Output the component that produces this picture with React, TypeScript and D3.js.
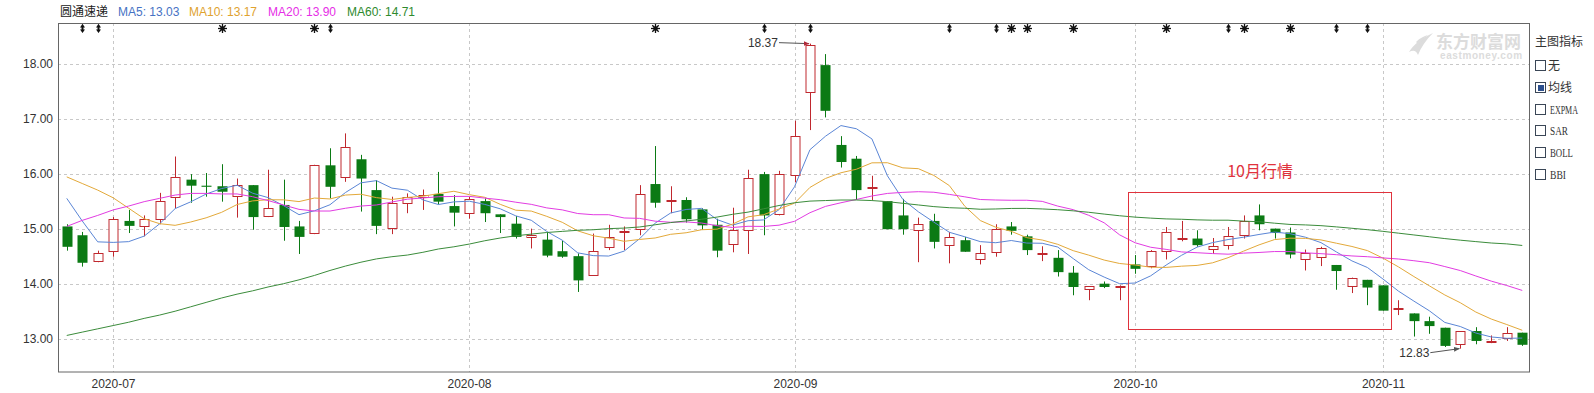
import React from 'react';
import * as d3 from 'd3';

// trading days shown (2020-06-24 .. 2020-11-13)
const monthDays: [string, number[]][] = [
  ['2020-06', [24, 29, 30]],
  ['2020-07', [1, 2, 3, 6, 7, 8, 9, 10, 13, 14, 15, 16, 17, 20, 21, 22, 23, 24, 27, 28, 29, 30, 31]],
  ['2020-08', [3, 4, 5, 6, 7, 10, 11, 12, 13, 14, 17, 18, 19, 20, 21, 24, 25, 26, 27, 28, 31]],
  ['2020-09', [1, 2, 3, 4, 7, 8, 9, 10, 11, 14, 15, 16, 17, 18, 21, 22, 23, 24, 25, 28, 29, 30]],
  ['2020-10', [9, 12, 13, 14, 15, 16, 19, 20, 21, 22, 23, 26, 27, 28, 29, 30]],
  ['2020-11', [2, 3, 4, 5, 6, 9, 10, 11, 12, 13]],
];
const dates: string[] = monthDays.flatMap(([m, ds]) => ds.map(d => `${m}-${String(d).padStart(2, '0')}`));

const opens = [
  15.05, 14.89, 14.42, 14.59, 15.15, 15.06, 15.18, 15.58, 15.90, 15.79,
  15.78, 15.61, 15.80, 15.24, 15.44, 15.05, 14.92, 16.16, 15.96, 16.27,
  15.71, 15.03, 15.48, 15.58, 15.64, 15.42, 15.29, 15.51, 15.27, 15.10,
  14.86, 14.81, 14.60, 14.51, 14.18, 14.68, 14.95, 14.99, 15.82, 15.52,
  15.53, 15.36, 15.08, 14.72, 14.98, 16.00, 15.28, 15.98, 17.50, 17.98,
  16.53, 16.28, 15.76, 15.51, 15.25, 15.00, 15.15, 14.70, 14.80, 14.45,
  14.58, 15.05, 14.87, 14.56, 14.48, 14.21, 13.91, 14.01, 13.96, 14.36,
  14.32, 14.60, 14.83, 14.83, 14.64, 14.72, 14.90, 15.25, 15.01, 14.94,
  14.45, 14.50, 14.35, 13.98, 14.08, 13.98, 13.55, 13.47, 13.33, 13.21,
  12.92, 13.15, 12.96, 13.03, 13.12,
];
const highs = [
  15.09, 14.95, 14.61, 15.22, 15.35, 15.25, 15.66, 16.32, 16.00, 16.02,
  16.18, 15.92, 15.80, 16.08, 15.90, 15.15, 16.17, 16.47, 16.74, 16.35,
  15.89, 15.59, 15.65, 15.72, 16.04, 15.62, 15.59, 15.56, 15.27, 15.24,
  15.01, 14.95, 14.79, 14.56, 14.92, 15.08, 15.05, 15.80, 16.51, 15.78,
  15.58, 15.38, 15.19, 15.39, 16.08, 16.04, 16.06, 16.97, 18.37, 18.18,
  16.69, 16.33, 15.97, 15.51, 15.55, 15.21, 15.28, 14.95, 14.86, 14.71,
  15.09, 15.13, 14.90, 14.69, 14.62, 14.33, 13.96, 14.05, 13.98, 14.53,
  14.62, 15.04, 15.15, 14.98, 14.84, 15.04, 15.25, 15.45, 15.01, 15.03,
  14.63, 14.68, 14.35, 14.12, 14.08, 13.98, 13.71, 13.47, 13.41, 13.21,
  13.15, 13.22, 13.07, 13.22, 13.12,
];
const lows = [
  14.61, 14.32, 14.40, 14.50, 14.93, 14.87, 15.09, 15.38, 15.48, 15.59,
  15.50, 15.21, 14.99, 15.22, 14.79, 14.55, 14.91, 15.56, 15.86, 15.32,
  14.91, 14.91, 15.29, 15.35, 15.45, 15.05, 15.19, 15.13, 14.93, 14.83,
  14.65, 14.49, 14.48, 13.86, 14.18, 14.62, 14.62, 14.89, 15.39, 15.29,
  15.12, 14.99, 14.49, 14.58, 14.55, 14.89, 15.25, 15.85, 16.80, 17.03,
  16.12, 15.53, 15.53, 15.00, 14.90, 14.40, 14.65, 14.38, 14.59, 14.36,
  14.50, 14.90, 14.53, 14.42, 14.14, 13.80, 13.71, 13.93, 13.71, 14.19,
  14.29, 14.45, 14.78, 14.68, 14.55, 14.63, 14.83, 14.98, 14.83, 14.47,
  14.25, 14.33, 13.90, 13.84, 13.62, 13.52, 13.44, 13.05, 13.10, 12.86,
  12.83, 12.91, 12.93, 12.97, 12.88,
];
const closes = [
  14.68, 14.39, 14.56, 15.18, 15.06, 15.18, 15.51, 15.94, 15.79, 15.77,
  15.68, 15.81, 15.22, 15.39, 15.04, 14.86, 16.16, 15.77, 16.50, 15.92,
  15.06, 15.48, 15.58, 15.62, 15.50, 15.30, 15.54, 15.29, 15.22, 14.86,
  14.90, 14.52, 14.50, 14.07, 14.61, 14.86, 14.97, 15.63, 15.48, 15.53,
  15.18, 15.07, 14.61, 14.98, 15.93, 15.25, 16.00, 16.69, 18.35, 17.15,
  16.22, 15.71, 15.77, 15.00, 15.00, 15.10, 14.77, 14.85, 14.59, 14.56,
  15.00, 14.97, 14.62, 14.57, 14.22, 13.95, 13.96, 13.95, 13.97, 14.28,
  14.60, 14.94, 14.84, 14.71, 14.69, 14.88, 15.15, 15.09, 14.93, 14.54,
  14.56, 14.66, 14.24, 14.12, 13.94, 13.52, 13.56, 13.33, 13.24, 12.88,
  13.15, 12.97, 12.97, 13.12, 12.90,
];

// moving-average values before enough visible history exists
const ma5Head = [15.56, 15.15, 14.77, 14.76];
const ma10Head = [15.95, 15.83, 15.71, 15.57, 15.38, 15.19, 15.10, 15.07, 15.13];
const ma20Head = [
  15.05, 15.16, 15.25, 15.35, 15.42, 15.50, 15.56, 15.62, 15.65, 15.65,
  15.64, 15.64, 15.59, 15.52, 15.44, 15.36, 15.33, 15.33, 15.38,
];
const ma60Head = [
  13.07, 13.13, 13.19, 13.25, 13.31, 13.38, 13.44, 13.51, 13.59, 13.67,
  13.75, 13.82, 13.88, 13.95, 14.01, 14.08, 14.16, 14.25, 14.33, 14.40,
  14.46, 14.50, 14.53, 14.58, 14.64, 14.68, 14.73, 14.79, 14.84, 14.88,
  14.91, 14.94, 14.96, 14.98, 14.99, 15.01, 15.02, 15.04, 15.08, 15.12,
  15.15, 15.18, 15.22, 15.27, 15.31, 15.37, 15.43, 15.48, 15.51, 15.52,
  15.53, 15.53, 15.52, 15.50, 15.47, 15.44, 15.41, 15.39, 15.38,
];

const legendItems = [
  { text: 'MA5: 13.03', color: '#4672c4' },
  { text: 'MA10: 13.17', color: '#e0a22e' },
  { text: 'MA20: 13.90', color: '#e62ee6' },
  { text: 'MA60: 14.71', color: '#2e8a2e' },
];
const monthTicks = ['2020-07', '2020-08', '2020-09', '2020-10', '2020-11'];
const yTicks = [13, 14, 15, 16, 17, 18];
const arrowDays = ['2020-06-29', '2020-06-30', '2020-07-21', '2020-08-28', '2020-09-02', '2020-09-15', '2020-09-18', '2020-10-19', '2020-10-28', '2020-10-30'];
const starDays = ['2020-07-10', '2020-07-20', '2020-08-19', '2020-09-21', '2020-09-22', '2020-09-25', '2020-10-13', '2020-10-20', '2020-10-23'];
const indicators = ['无', '均线', 'EXPMA', 'SAR', 'BOLL', 'BBI'];
const indicatorWidths = [0, 0, 28, 18, 23, 16];

const W = 1594, H = 393;
const L = 58, R = 1529, T = 23, B = 372;
const UP = '#c0282e', DOWN = '#0b7a14';
const SANS = "Arial, 'Liberation Sans', 'Noto Sans CJK SC', sans-serif";
const CJK = "'Noto Sans CJK SC', sans-serif";

const movingAvg = (n: number, head: number[]) =>
  closes.map((_, i) => (i < n - 1 ? head[i] : d3.mean(closes.slice(i - n + 1, i + 1)) as number));

export default function App() {
  const x = d3.scaleBand<string>().domain(dates).range([59, 1530]);
  const bw = x.bandwidth();
  const cx = (d: string) => (x(d) as number) + bw / 2;
  const y = d3.scaleLinear().domain([12.406, 18.745]).range([B, T]);

  const maLines = [
    { v: movingAvg(5, ma5Head), color: '#5b86d6' },
    { v: movingAvg(10, ma10Head), color: '#e3a93a' },
    { v: movingAvg(20, ma20Head), color: '#e23ce2' },
    { v: movingAvg(60, ma60Head), color: '#3b8c3b' },
  ];
  const line = d3.line<number>().x((_, i) => cx(dates[i])).y(v => y(v));

  const firstOfMonth = (m: string) => dates.find(d => d.startsWith(m)) as string;

  const hiIdx = d3.maxIndex(highs);
  const loIdx = d3.minIndex(lows);
  const hx = cx(dates[hiIdx]), hy = y(highs[hiIdx]);
  const lx = cx(dates[loIdx]), ly = y(lows[loIdx]);

  // October box
  const octFirst = firstOfMonth('2020-10');
  const octLast = firstOfMonth('2020-11');
  const boxX0 = (x(octFirst) as number) + 1;
  const boxX1 = (x(octLast) as number) + bw + 1;
  const boxY0 = Math.round(y(15.67)) + 0.5;
  const boxY1 = Math.round(y(13.19)) + 0.5;

  return (
    <div style={{ position: 'absolute', left: 0, top: 0 }}>
      <svg width={W} height={H} style={{ display: 'block', background: '#fff' }}>
        {/* header legend */}
        <text x={60} y={16} fontSize={12} fontFamily={CJK} fill="#222">圆通速递</text>
        {legendItems.map((it, i) => (
          <text key={it.text} x={[118, 189, 268, 347][i]} y={16} fontSize={12} fontFamily={SANS} fill={it.color}>{it.text}</text>
        ))}

        {/* watermark */}
        <g fill="#dcdcdc">
          <path d="M1409,52 C1414,44 1422,38 1433,33 C1426,40 1421,47 1418,55 C1416,50 1413,50 1409,52 Z" />
          <path d="M1416,42 C1420,38 1424,36 1428,35 C1424,38 1421,41 1419,45 Z" />
          <text x={1436} y={48} fontSize={17} fontWeight="bold" fontFamily={CJK}>东方财富网</text>
          <text x={1440} y={59} fontSize={10} fontWeight="bold" fontFamily={SANS} letterSpacing={0.6}>eastmoney.com</text>
        </g>

        {/* grid */}
        {yTicks.map(t => (
          <g key={t}>
            <line x1={L} x2={R} y1={Math.round(y(t)) + 0.5} y2={Math.round(y(t)) + 0.5} stroke="#c8c8c8" strokeDasharray="3,3" />
            <text x={53} y={y(t) + 4} textAnchor="end" fontSize={12} fontFamily={SANS} fill="#333">{d3.format('.2f')(t)}</text>
          </g>
        ))}
        {monthTicks.map(m => {
          const gx = Math.round(cx(firstOfMonth(m))) + 0.5;
          return (
            <g key={m}>
              <line x1={gx} x2={gx} y1={T} y2={B} stroke="#c8c8c8" strokeDasharray="3,3" />
              <text x={gx} y={388} textAnchor="middle" fontSize={12} fontFamily={SANS} fill="#333">{m}</text>
            </g>
          );
        })}

        {/* candles */}
        {dates.map((d, i) => {
          const o = opens[i], c = closes[i];
          const up = c >= o;
          const col = up ? UP : DOWN;
          const xc = Math.round(cx(d)) + 0.5;
          const top = y(Math.max(o, c)), bot = y(Math.min(o, c));
          return (
            <g key={d}>
              <line x1={xc} x2={xc} y1={y(highs[i])} y2={y(lows[i])} stroke={col} strokeWidth={1} />
              {up ? (
                <rect x={xc - 4.5} y={Math.round(top) + 0.5} width={9} height={Math.max(1, Math.round(bot - top))} fill="#fff" stroke={col} />
              ) : (
                <rect x={xc - 5} y={top} width={10} height={Math.max(1, bot - top)} fill={col} />
              )}
            </g>
          );
        })}

        {/* moving averages */}
        {maLines.map((m, i) => (
          <path key={i} d={line(m.v) as string} fill="none" stroke={m.color} strokeWidth={1} />
        ))}

        {/* high / low annotations */}
        <defs>
          <marker id="ah" viewBox="0 0 10 10" refX={9} refY={5} markerWidth={6} markerHeight={6} orient="auto">
            <path d="M0,1 L10,5 L0,9 Z" fill="#b02a3a" />
          </marker>
          <marker id="al" viewBox="0 0 10 10" refX={9} refY={5} markerWidth={6} markerHeight={6} orient="auto">
            <path d="M0,1 L10,5 L0,9 Z" fill="#555" />
          </marker>
        </defs>
        <text x={hx - 32} y={hy + 3} textAnchor="end" fontSize={12} fontFamily={SANS} fill="#333">{highs[hiIdx].toFixed(2)}</text>
        <line x1={hx - 31} y1={hy - 1} x2={hx - 1} y2={hy} stroke="#555" markerEnd="url(#ah)" />
        <text x={lx - 31} y={ly + 8} textAnchor="end" fontSize={12} fontFamily={SANS} fill="#333">{lows[loIdx].toFixed(2)}</text>
        <line x1={lx - 30} y1={ly + 4} x2={lx - 1} y2={ly} stroke="#555" markerEnd="url(#al)" />

        {/* October box */}
        <rect x={Math.round(boxX0) + 0.5} y={boxY0} width={Math.round(boxX1 - boxX0)} height={boxY1 - boxY0} fill="none" stroke="#e0323c" />
        <text x={(boxX0 + boxX1) / 2} y={177} textAnchor="middle" fontSize={16} fontFamily={CJK} fill="#e0323c">10月行情</text>

        {/* signal markers */}
        {arrowDays.map(d => {
          const mx = Math.round(cx(d)) + 0.5;
          return (
            <path key={d} d={`M${mx - 2.5},27.5 L${mx},23.8 L${mx + 2.5},27.5 L${mx + 1},27.5 L${mx + 1},29.5 L${mx + 2.5},29.5 L${mx},33 L${mx - 2.5},29.5 L${mx - 1},29.5 L${mx - 1},27.5 Z`} fill="#111" />
          );
        })}
        {starDays.map(d => {
          const mx = Math.round(cx(d)) + 0.5;
          const cy = 28.5;
          return (
            <g key={d} stroke="#111" strokeWidth={1.3}>
              <line x1={mx} x2={mx} y1={cy - 4.5} y2={cy + 4.5} />
              <line x1={mx - 4.5} x2={mx + 4.5} y1={cy} y2={cy} />
              <line x1={mx - 3.2} x2={mx + 3.2} y1={cy - 3.2} y2={cy + 3.2} />
              <line x1={mx - 3.2} x2={mx + 3.2} y1={cy + 3.2} y2={cy - 3.2} />
              <circle cx={mx} cy={cy} r={2.2} fill="#111" stroke="none" />
            </g>
          );
        })}

        {/* frame */}
        <rect x={L + 0.5} y={T + 0.5} width={R - L} height={B - T - 0.5} fill="none" stroke="#666" />

        {/* right indicator panel */}
        <text x={1535} y={46} fontSize={12} fontFamily={CJK} fill="#333">主图指标</text>
        {indicators.map((name, i) => {
          const by = 60 + i * 21.8;
          const latin = indicatorWidths[i] > 0;
          return (
            <g key={name}>
              <rect x={1535.5} y={Math.round(by) + 0.5} width={10} height={10} fill="#fff" stroke="#3a4656" />
              {i === 1 && <rect x={1538} y={Math.round(by) + 3} width={6} height={6} fill="#2c4f8e" />}
              {latin ? (
                <text x={1550} y={by + 10} fontSize={12} fontFamily="'Liberation Serif', serif" fill="#333" textLength={indicatorWidths[i]} lengthAdjust="spacingAndGlyphs">{name}</text>
              ) : (
                <text x={1548} y={by + 10} fontSize={12} fontFamily={CJK} fill="#333">{name}</text>
              )}
            </g>
          );
        })}
      </svg>
    </div>
  );
}
